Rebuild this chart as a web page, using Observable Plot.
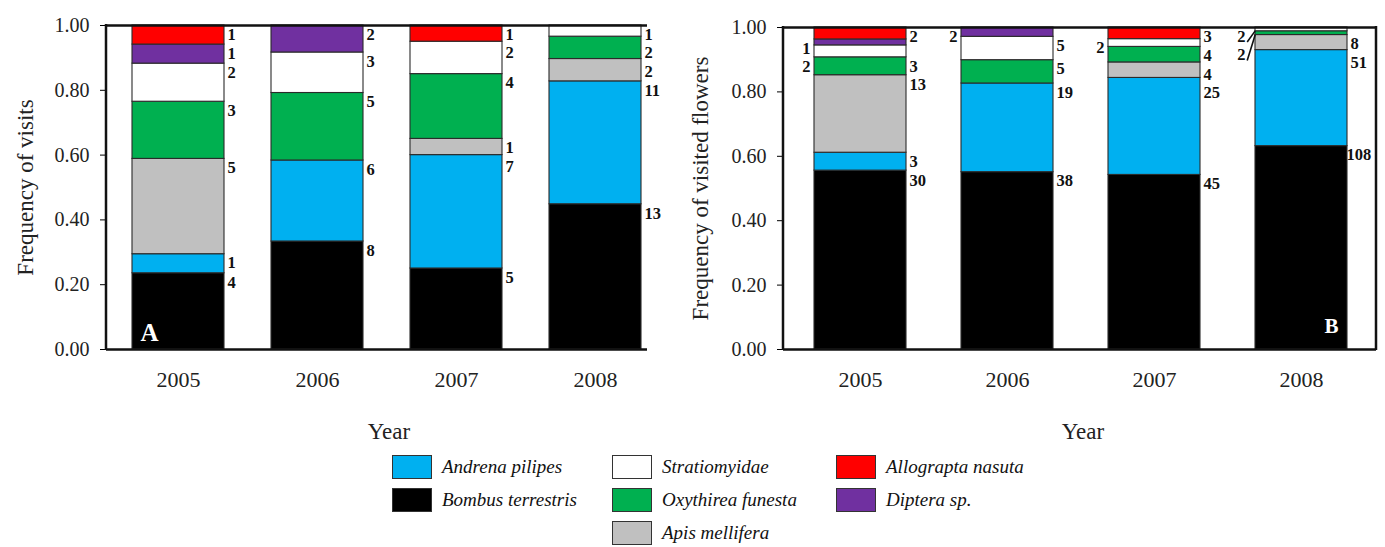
<!DOCTYPE html>
<html>
<head>
<meta charset="utf-8">
<script src="https://cdn.jsdelivr.net/npm/d3@7"></script>
<script src="https://cdn.jsdelivr.net/npm/@observablehq/plot@0.6"></script>
<style>
  html, body { margin: 0; padding: 0; background: #fff; }
  #root { position: relative; width: 1385px; height: 547px; overflow: hidden; font-family: "Liberation Serif", "Times New Roman", serif; }
  .panel { position: absolute; top: 0; }
  .legend-item { position: absolute; display: flex; align-items: center; font-family: "Liberation Serif", "Times New Roman", serif; font-style: italic; font-size: 19px; color: #111; white-space: nowrap; }
  .legend-item .sw { width: 38px; height: 22px; border: 1.5px solid #333; margin-right: 10px; box-sizing: content-box; }
</style>
</head>
<body>
<div id="root"></div>
<script>
// ---------------- data ----------------
const years = ["2005", "2006", "2007", "2008"];
const species = ["Bombus terrestris", "Andrena pilipes", "Apis mellifera", "Oxythirea funesta", "Stratiomyidae", "Diptera sp.", "Allograpta nasuta"];
const speciesColors = ["#000000", "#00b0f0", "#c0c0c0", "#00b050", "#ffffff", "#7030a0", "#ff0000"];
// counts: one row per species (same order as `species`), one column per year
const visitsA = [
  [4, 8, 5, 13],
  [1, 6, 7, 11],
  [5, 0, 1, 2],
  [3, 5, 4, 2],
  [2, 3, 2, 1],
  [1, 2, 0, 0],
  [1, 0, 1, 0]
];
const flowersB = [
  [30, 38, 45, 108],
  [3, 19, 25, 51],
  [13, 0, 4, 8],
  [3, 5, 4, 2],
  [2, 5, 2, 2],
  [1, 2, 0, 0],
  [2, 0, 3, 0]
];
const yTicks = [0, 0.2, 0.4, 0.6, 0.8, 1.0];
const legendColumns = [
  ["Andrena pilipes", "Bombus terrestris"],
  ["Stratiomyidae", "Oxythirea funesta", "Apis mellifera"],
  ["Allograpta nasuta", "Diptera sp."]
];

// ---------------- layout ----------------
const FONT = '"Liberation Serif", "Times New Roman", serif';
const H = 445;
const panelA = {left: 0, width: 692, ml: 106, mr: 45, mt: 25, mb: H - 349,
  pi: 0.341, po: 0.107, align: 0.8, ylabel: "Frequency of visits", letter: "A",
  letterDx: -29, letterDy: -17, letterSize: 25, rightFrame: false, yearDx: 12, titleDx: -81,
  leftSet: [], leaderSet: []};
const panelB = {left: 692, width: 693, ml: 91, mr: 9, mt: 27, mb: H - 349,
  pi: 0.377, po: 0.196, align: 0.52, ylabel: "Frequency of visited flowers", letter: "B",
  letterDx: 30, letterDy: -23, letterSize: 21, rightFrame: true, yearDx: 3, titleDx: -83,
  leftSet: ["2005|Diptera sp.", "2005|Stratiomyidae", "2006|Diptera sp.", "2007|Stratiomyidae", "2008|Stratiomyidae", "2008|Oxythirea funesta"],
  leaderSet: ["2008|Stratiomyidae", "2008|Oxythirea funesta"]};

function buildRows(counts) {
  const rows = [];
  years.forEach((yr, j) => {
    const total = d3.sum(counts, r => r[j]);
    let cum = 0;
    species.forEach((sp, i) => {
      const c = counts[i][j];
      if (c > 0) {
        rows.push({year: yr, species: sp, count: c, y0: cum / total, y1: (cum + c) / total});
      }
      cum += c;
    });
  });
  return rows;
}

function buildLabels(rows, cfg) {
  const plotH = 349 - cfg.mt;
  const off = 9 / plotH, gap = 18.5 / plotH;
  const labels = [];
  years.forEach(yr => {
    const segs = rows.filter(r => r.year === yr).sort((a, b) => b.y1 - a.y1);
    const last = {left: Infinity, right: Infinity};
    segs.forEach(s => {
      const key = yr + "|" + s.species;
      const side = cfg.leftSet.includes(key) ? "left" : "right";
      let ly = s.y1 - off;
      ly = Math.min(ly, last[side] - gap);
      last[side] = ly;
      labels.push({...s, side, ly, leader: cfg.leaderSet.includes(key), text: String(s.count)});
    });
  });
  return labels;
}

function makePanel(counts, cfg) {
  const rows = buildRows(counts);
  const labels = buildLabels(rows, cfg);
  const band = d3.scaleBand(years, [cfg.ml, cfg.width - cfg.mr])
    .paddingInner(cfg.pi).paddingOuter(cfg.po).align(cfg.align);
  const bw = band.bandwidth();
  const frameRight = cfg.width - cfg.mr;
  const charW = 8.6;
  const rightNormal = [], rightClamped = [];
  labels.filter(l => l.side === "right").forEach(l => {
    const start = band(l.year) + bw + 4;
    if (cfg.rightFrame && start + l.text.length * charW > frameRight - 2) rightClamped.push(l);
    else rightNormal.push(l);
  });
  const leftNormal = labels.filter(l => l.side === "left" && !l.leader);
  const leftLeader = labels.filter(l => l.side === "left" && l.leader);
  const labelStyle = {fontSize: 16.5, fontWeight: "bold", fill: "#111", fontFamily: FONT};

  const marks = [
    Plot.rectY(rows, {x: "year", y1: "y0", y2: "y1", fill: "species", stroke: "#2a2a2a", strokeWidth: 1.1}),
    Plot.ruleY([0], {stroke: "#111", strokeWidth: 2.5}),
    Plot.ruleY([1], {stroke: "#111", strokeWidth: 2.5}),
    Plot.axisY({ticks: yTicks, tickFormat: d => d.toFixed(2), tickSize: 6, tickPadding: 11, fontSize: 20, fontFamily: FONT, fill: "#222", label: null}),
    Plot.axisX({tickSize: 0, tickPadding: 22, fontSize: 22, fontFamily: FONT, fill: "#222", label: null}),
    Plot.text(rightNormal, {x: "year", y: "ly", text: "text", textAnchor: "start", dx: bw / 2 + 3, ...labelStyle}),
    Plot.text(leftNormal, {x: "year", y: "ly", text: "text", textAnchor: "end", dx: -(bw / 2 + 4), ...labelStyle}),
    Plot.text(leftLeader, {x: "year", y: "ly", text: "text", textAnchor: "end", dx: -(bw / 2 + 10), ...labelStyle}),
    ...rightClamped.map(l => Plot.text([l], {x: "year", y: "ly", text: "text", textAnchor: "end",
      dx: frameRight - 4 - (band(l.year) + bw / 2), ...labelStyle})),
    // leader lines from small labels to thin segments, plus frame verticals
    (index, scales, values, dims) => {
      const g = d3.create("svg:g");
      leftLeader.forEach(l => {
        const x0 = band(l.year);
        const yl = scales.y(l.ly);
        const ys = scales.y((l.y0 + l.y1) / 2);
        g.append("line").attr("x1", x0 - 9).attr("y1", yl + 6).attr("x2", x0 - 1).attr("y2", ys + 2)
          .attr("stroke", "#111").attr("stroke-width", 1.6);
      });
      g.append("line").attr("x1", dims.marginLeft).attr("x2", dims.marginLeft)
        .attr("y1", dims.marginTop - 1).attr("y2", dims.height - dims.marginBottom + 1)
        .attr("stroke", "#111").attr("stroke-width", 2.5);
      if (cfg.rightFrame) {
        const xr = dims.width - dims.marginRight;
        g.append("line").attr("x1", xr).attr("x2", xr)
          .attr("y1", dims.marginTop - 1).attr("y2", dims.height - dims.marginBottom + 1)
          .attr("stroke", "#111").attr("stroke-width", 2.5);
      }
      return g.node();
    },
    Plot.text([cfg.letter], {x: () => years[cfg.letter === "A" ? 0 : 3], y: () => 0, text: d => d,
      dx: cfg.letterDx, dy: cfg.letterDy, fill: "white", fontWeight: "bold", fontSize: cfg.letterSize, fontFamily: FONT}),
    Plot.text(["Year"], {frameAnchor: "bottom", textAnchor: "middle", lineAnchor: "middle", text: d => d, dy: 82, dx: cfg.yearDx, fontSize: 23, fontFamily: FONT, fill: "#222"}),
    Plot.text([cfg.ylabel], {frameAnchor: "left", textAnchor: "middle", lineAnchor: "middle", text: d => d, rotate: -90, dx: cfg.titleDx, fontSize: 23, fontFamily: FONT, fill: "#222"})
  ];

  return Plot.plot({
    width: cfg.width,
    height: H,
    marginLeft: cfg.ml,
    marginRight: cfg.mr,
    marginTop: cfg.mt,
    marginBottom: cfg.mb,
    style: {background: "white", fontFamily: FONT, overflow: "visible"},
    x: {domain: years, paddingInner: cfg.pi, paddingOuter: cfg.po, align: cfg.align},
    y: {domain: [0, 1]},
    color: {domain: species, range: speciesColors},
    marks
  });
}

const root = document.getElementById("root");
[[visitsA, panelA], [flowersB, panelB]].forEach(([counts, cfg]) => {
  const wrap = document.createElement("div");
  wrap.className = "panel";
  wrap.style.left = cfg.left + "px";
  wrap.appendChild(makePanel(counts, cfg));
  root.appendChild(wrap);
});

// legend
const legendX = [392, 612, 836];
const legendY = [455, 488, 521];
legendColumns.forEach((col, ci) => {
  col.forEach((name, ri) => {
    const item = document.createElement("div");
    item.className = "legend-item";
    item.style.left = legendX[ci] + "px";
    item.style.top = legendY[ri] + "px";
    const sw = document.createElement("div");
    sw.className = "sw";
    sw.style.background = speciesColors[species.indexOf(name)];
    const tx = document.createElement("span");
    tx.textContent = name;
    item.appendChild(sw);
    item.appendChild(tx);
    root.appendChild(item);
  });
});
</script>
</body>
</html>
